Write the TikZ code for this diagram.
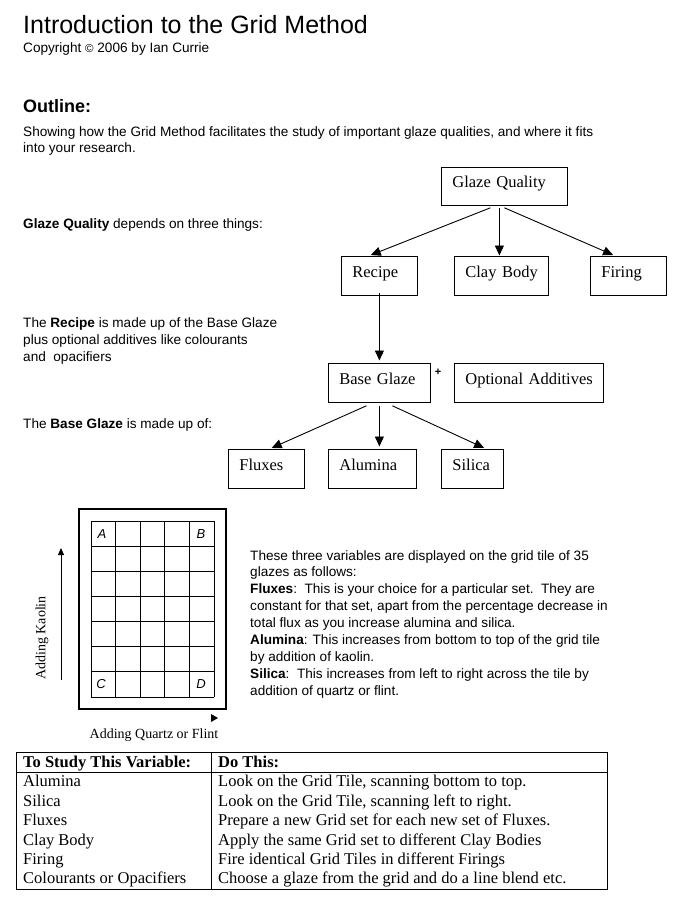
\documentclass[tikz,border=0pt]{standalone}
\usepackage{fontspec}
\setmainfont{Liberation Serif}
\setsansfont{Liberation Sans}
\usetikzlibrary{arrows.meta}
\begin{document}
\begin{tikzpicture}[x=1pt,y=-1pt,
  txt/.style={anchor=base west, inner sep=0pt, font=\sffamily\fontsize{13.6}{16.9}\selectfont, align=left},
  box/.style={draw, line width=0.8pt, anchor=north west, minimum height=39pt, inner xsep=11pt, inner ysep=0pt,
    text height=9.5pt, text depth=6.5pt, align=left, font=\fontsize{16.5}{19}\selectfont},
  arr/.style={line width=0.9pt, -{Triangle[length=10pt,width=9pt]}, shorten >=2.5pt},
  gridl/.style={line width=0.9pt},
  lab/.style={inner sep=0pt, font=\sffamily\itshape\fontsize{13}{14}\selectfont},
  tab/.style={anchor=base west, inner sep=0pt, font=\fontsize{16.5}{19}\selectfont},
  axis/.style={inner sep=0pt, font=\fontsize{14}{16}\selectfont}]
\path[fill=white, use as bounding box] (0,0) rectangle (684,915);

% heading
\node[txt, font=\sffamily\fontsize{25}{30}\selectfont] (title) at (23,34) {Introduction to the Grid Method};
\node[txt] (copy) at (23,53) {Copyright {\fontsize{11.5}{12}\selectfont ©} 2006 by Ian Currie};
\node[txt, font=\sffamily\bfseries\fontsize{18}{21}\selectfont] (outline) at (23,113) {Outline:};
% multi-line nodes: base anchor = last line's baseline
\node[txt] (intro) at (23,152.9) {Showing how the Grid Method facilitates the study of important glaze qualities, and where it fits\\into your research.};

% left texts
\node[txt] (t1) at (23,228) {{\bfseries Glaze Quality} depends on three things:};
\node[txt] (t2) at (23,361.5) {The {\bfseries Recipe} is made up of the Base Glaze\\plus optional additives like colourants\\and~~opacifiers};
\node[txt] (t3) at (23,428) {The {\bfseries Base Glaze} is made up of:};

% boxes
\node[box, text width=104pt, minimum height=38pt] (gq) at (441,167) {\mbox{Glaze Quality}};
\node[box, text width=54pt] (recipe) at (341,256) {\mbox{Recipe}};
\node[box, text width=72pt] (clay) at (454,256) {\mbox{Clay Body}};
\node[box, text width=54pt] (firing) at (590,256) {\mbox{Firing}};
\node[box, text width=80pt] (bg) at (328,363) {\mbox{Base Glaze}};
\node[box, text width=127pt] (opt) at (454,363) {\mbox{Optional Additives}};
\node[box, text width=54pt] (flux) at (228,449) {\mbox{Fluxes}};
\node[box, text width=66pt] (alum) at (328,449) {\mbox{Alumina}};
\node[box, text width=40pt] (sil) at (441,449) {\mbox{Silica}};
\node[inner sep=0pt, font=\sffamily\bfseries\fontsize{11}{12}\selectfont] (plus) at (438,372) {+};

% arrows
\draw[arr] ([xshift=-14pt,yshift=-2pt]gq.south) -- ([xshift=-11pt]recipe.north);
\draw[arr] ([xshift=-5pt,yshift=-2pt]gq.south) -- ([xshift=-5pt,yshift=-2pt]gq.south |- clay.north);
\draw[arr] ([yshift=-2pt]gq.south) -- ([xshift=-13pt]firing.north);
\draw[arr] ([yshift=3pt]recipe.south) -- (recipe.south |- bg.north);
\draw[arr] ([xshift=-13pt,yshift=-3pt]bg.south) -- ([xshift=3pt]flux.north);
\draw[arr] ([yshift=-3pt]bg.south) -- (bg.south |- alum.north);
\draw[arr] ([xshift=13pt,yshift=-3pt]bg.south) -- ([xshift=14pt]sil.north);

% grid tile
\draw[line width=2.2pt] (79,509) rectangle (226,709);
\foreach \i in {0,...,5} \draw[gridl] (91+\i*24.6,521) -- (91+\i*24.6,697);
\foreach \j in {0,...,7} \draw[gridl] (91,521+\j*25.14) -- (214,521+\j*25.14);
\node[lab] (la) at (102,534) {A};
\node[lab] (lb) at (201,534) {B};
\node[lab] (lc) at (101,684) {C};
\node[lab] (ld) at (201,684) {D};
\coordinate (k0) at (61,680);
\coordinate (k1) at (61,548);
\draw[line width=0.8pt, -{Triangle[length=7pt,width=6pt]}] (k0) -- (k1);
\node[axis, rotate=90] (kaolin) at (42,638) {Adding Kaolin};
\fill (211,714) -- (218,718) -- (211,722) -- cycle;
\node[axis] (quartz) at (154,735) {Adding Quartz or Flint};

% description
\node[txt] (desc) at (250,695.2) {These three variables are displayed on the grid tile of 35\\
glazes as follows:\\
{\bfseries Fluxes}:~~This is your choice for a particular set.~~They are\\
constant for that set, apart from the percentage decrease in\\
total flux as you increase alumina and silica.\\
{\bfseries Alumina}: This increases from bottom to top of the grid tile\\
by addition of kaolin.\\
{\bfseries Silica}:~~This increases from left to right across the tile by\\
addition of quartz or flint.};

% table
\draw[line width=1pt] (16,752) rectangle (607,889);
\draw[line width=1pt] (16,772) -- (607,772);
\draw[line width=1pt] (211,752) -- (211,889);
\node[tab, font=\bfseries\fontsize{16.5}{19}\selectfont] (h1) at (23,767) {To Study This Variable:};
\node[tab, font=\bfseries\fontsize{16.5}{19}\selectfont] (h2) at (218,767) {Do This:};
\foreach \a/\b [count=\r] in {Alumina/{Look on the Grid Tile, scanning bottom to top.},
  Silica/{Look on the Grid Tile, scanning left to right.},
  Fluxes/{Prepare a new Grid set for each new set of Fluxes.},
  Clay Body/{Apply the same Grid set to different Clay Bodies},
  Firing/{Fire identical Grid Tiles in different Firings},
  Colourants or Opacifiers/{Choose a glaze from the grid and do a line blend etc.}} {
  \node[tab] (r\r a) at (23,767.5+\r*19.4) {\a};
  \node[tab] (r\r b) at (218,767.5+\r*19.4) {\b};
}
\end{tikzpicture}
\end{document}
